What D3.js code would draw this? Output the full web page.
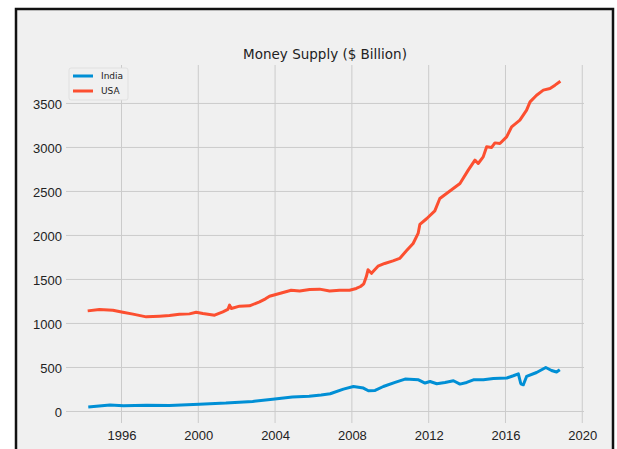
<!DOCTYPE html>
<html>
<head>
<meta charset="utf-8">
<script src="https://cdn.jsdelivr.net/npm/d3@7"></script>
<style>
  body { margin: 0; background: #fff; }
  svg { display: block; font-family: "DejaVu Sans", sans-serif; }
  .grid line { stroke: #cbcbcb; stroke-width: 1; }
  .tick text { fill: #222; font-size: 13px; }
</style>
</head>
<body>
<div id="ChartContainer"></div>
<script>
// values (decimal years, $ billion)
var usaYears = [1994.24, 1994.85, 1995.55, 1996.07, 1996.6, 1997.29, 1997.98, 1998.5, 1999.02, 1999.54,
  1999.89, 2000.24, 2000.85, 2001.28, 2001.54, 2001.63, 2001.72, 2002.15, 2002.67, 2003.19,
  2003.5, 2003.71, 2004.23, 2004.84, 2005.28, 2005.8, 2006.32, 2006.84, 2007.36, 2007.88,
  2008.23, 2008.45, 2008.62, 2008.75, 2008.84, 2009.02, 2009.36, 2009.71, 2010.14, 2010.49,
  2010.84, 2011.19, 2011.45, 2011.54, 2011.89, 2012.32, 2012.58, 2012.93, 2013.28, 2013.63,
  2014.06, 2014.41, 2014.58, 2014.84, 2015.02, 2015.28, 2015.45, 2015.71, 2016.06, 2016.32,
  2016.75, 2017.1, 2017.28, 2017.62, 2017.97, 2018.32, 2018.58, 2018.86]
var usaValues = [1143, 1159, 1151, 1128, 1106, 1075, 1083, 1091, 1106, 1109,
  1128, 1114, 1094, 1132, 1159, 1208, 1170, 1197, 1200, 1246,
  1280, 1310, 1341, 1378, 1370, 1386, 1390, 1370, 1378, 1378,
  1398, 1420, 1450, 1530, 1610, 1570, 1651, 1682, 1711, 1739,
  1825, 1909, 2023, 2125, 2190, 2280, 2420, 2477, 2534, 2591,
  2742, 2856, 2818, 2893, 3007, 3000, 3052, 3045, 3120, 3234,
  3310, 3424, 3518, 3594, 3651, 3670, 3708, 3753]

var indiaYears = [1994.27, 1995.4, 1996.1, 1997.3, 1998.5, 2000.05, 2001.44, 2002.83, 2003.87, 2004.9,
  2005.77, 2006.4, 2006.87, 2007.56, 2008.08, 2008.6, 2008.86, 2009.21, 2009.64, 2010.25,
  2010.77, 2011.47, 2011.81, 2012.07, 2012.42, 2012.85, 2013.29, 2013.63, 2013.98, 2014.33,
  2014.85, 2015.37, 2016.07, 2016.41, 2016.67, 2016.8, 2016.93, 2017.1, 2017.62, 2018.1,
  2018.4, 2018.66, 2018.83]
var indiaValues = [50, 73, 65, 72, 68, 83, 95, 114, 140, 164,
  174, 188, 201, 254, 284, 266, 235, 239, 284, 330,
  368, 360, 323, 341, 315, 330, 349, 311, 330, 360,
  360, 375, 380, 406, 428, 315, 303, 398, 443, 500,
  466, 448, 474]

var seriesNames = ["India", "USA"]
var seriesColors = ["#008fd5", "#fc4f30"]
var xTicks = [1996, 2000, 2004, 2008, 2012, 2016, 2020]
var yTicks = [0, 500, 1000, 1500, 2000, 2500, 3000, 3500]

var fullWidth = 617
var fullHeight = 449
var margin = { top: 65, right: 33, bottom: 26, left: 66 }
var width = fullWidth - margin.left - margin.right
var height = fullHeight - margin.top - margin.bottom

var svg = d3.select("#ChartContainer").append("svg")
  .attr("width", fullWidth)
  .attr("height", fullHeight)

// figure frame
svg.append("rect")
  .attr("x", 16)
  .attr("y", 9)
  .attr("width", 597)
  .attr("height", 470)
  .attr("fill", "#f0f0f0")
  .attr("stroke", "#111")
  .attr("stroke-width", 2.5)

var x = d3.scaleLinear()
  .domain([1993.11, 2020.09])
  .range([0, width])
var y = d3.scaleLinear()
  .domain([-131, 3937])
  .range([height, 0])

var g = svg.append("g")
  .attr("transform", `translate(${margin.left},${margin.top})`)

// grid
g.append("g")
  .attr("class", "grid")
  .selectAll("line")
  .data(xTicks)
  .enter().append("line")
  .attr("x1", d => x(d)).attr("x2", d => x(d))
  .attr("y1", 0).attr("y2", height)
g.append("g")
  .attr("class", "grid")
  .selectAll("line")
  .data(yTicks)
  .enter().append("line")
  .attr("x1", 0).attr("x2", width)
  .attr("y1", d => y(d)).attr("y2", d => y(d))

// axes, labels only
var xAxis = g.append("g")
  .attr("transform", "translate(0," + height + ")")
  .call(d3.axisBottom(x).tickValues(xTicks).tickFormat(d3.format("d")).tickSize(0).tickPadding(7))
var yAxis = g.append("g")
  .call(d3.axisLeft(y).tickValues(yTicks).tickFormat(d3.format("d")).tickSize(0).tickPadding(4))
g.selectAll(".domain").remove()
yAxis.selectAll("text").attr("dy", "0.35em")
xAxis.selectAll("text").attr("dy", "0.75em")

// lines
var line = d3.line()
  .x(d => x(d[0]))
  .y(d => y(d[1]))

var series = [d3.zip(indiaYears, indiaValues), d3.zip(usaYears, usaValues)]
g.selectAll(".series")
  .data(series)
  .enter().append("path")
  .attr("class", "series")
  .attr("fill", "none")
  .attr("stroke", (d, i) => seriesColors[i])
  .attr("stroke-width", 3)
  .attr("stroke-linejoin", "round")
  .attr("d", line)

// title
svg.append("text")
  .attr("x", margin.left + width / 2)
  .attr("y", 59)
  .attr("text-anchor", "middle")
  .attr("font-size", "13.5px")
  .attr("fill", "#222")
  .text("Money Supply ($ Billion)")

// legend
var legend = svg.append("g")
  .attr("transform", "translate(69,68)")
legend.append("rect")
  .attr("width", 59)
  .attr("height", 32)
  .attr("rx", 2)
  .attr("fill", "#f0f0f0")
  .attr("stroke", "#dcdcdc")
  .attr("stroke-width", 0.8)
seriesNames.forEach((name, i) => {
  legend.append("line")
    .attr("x1", 4).attr("x2", 24)
    .attr("y1", 8 + i * 15).attr("y2", 8 + i * 15)
    .attr("stroke", seriesColors[i])
    .attr("stroke-width", 3)
  legend.append("text")
    .attr("x", 32)
    .attr("y", 8 + i * 15)
    .attr("dy", "0.35em")
    .attr("font-size", "9px")
    .attr("fill", "#222")
    .text(name)
})
</script>
</body>
</html>
